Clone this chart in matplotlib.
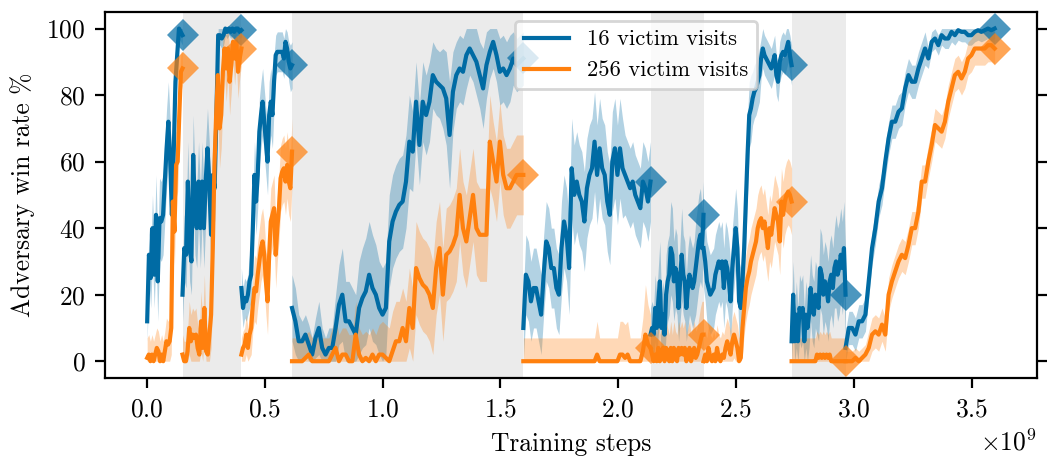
import numpy as np
import matplotlib
matplotlib.use("Agg")
import matplotlib.pyplot as plt

plt.rcParams["font.family"] = "cmr10"
plt.rcParams["mathtext.fontset"] = "cm"
plt.rcParams["axes.formatter.use_mathtext"] = True
plt.rcParams["font.size"] = 9.2

# curriculum segment boundaries, in units of 1e9 training steps
edges = [0.0, 0.15, 0.40, 0.615, 1.597, 2.137, 2.362, 2.736, 2.965, 3.598]
shaded = [1, 3, 5, 7]

# win rate (%) and half-width of the band, per segment
w16_1 = [12, 32, 25, 40, 26, 44, 24, 43, 42, 44, 54, 64, 72, 61, 44, 62, 84, 92, 100, 99, 98]
e16_1 = [6, 8, 9, 10, 10, 12, 12, 12, 12, 12, 12, 12, 12, 12, 12, 12, 9, 6, 3, 3, 3]
w256_1 = [1, 2, 0, 2, 0, 2, 4, 3, 0, 2, 0, 3, 6, 5, 6, 10, 48, 39, 59, 60, 74, 87, 88]
e256_1 = [6, 6, 6, 6, 6, 6, 6, 6, 6, 6, 6, 6, 7, 7, 7, 8, 10, 10, 10, 9, 8, 6, 5]

w16_2 = [20, 34, 32, 54, 34, 30, 62, 44, 40, 54, 40, 54, 40, 54, 64, 54, 38, 56, 52, 74,
         98, 98, 97, 98, 100, 99, 100, 99, 100, 99, 100, 100, 99, 99.5]
e16_2 = [8, 10, 10, 12, 10, 10, 12, 12, 12, 12, 12, 12, 12, 12, 12, 12, 12, 10, 10, 8,
         3, 3, 3, 3, 2, 2, 2, 2, 2, 2, 2, 2, 2, 2]
w256_2 = [2, 0, 0, 3, 10, 6, 8, 7, 8, 4, 2, 12, 4, 16, 3, 2, 8, 14, 34, 59,
          74, 86, 70, 74, 87, 94, 88, 94, 84, 89, 96, 91, 96, 87, 91, 94]
e256_2 = [6, 6, 6, 6, 8, 8, 8, 8, 8, 7, 7, 9, 8, 10, 8, 7, 8, 10, 12, 12,
          12, 12, 12, 10, 10, 8, 10, 8, 10, 8, 6, 8, 6, 8, 6, 5]

w16_3 = [22, 16, 19, 18, 20, 24, 26, 40, 56, 48, 56, 69, 74, 78, 72, 66, 60, 74, 78, 74,
         84, 92, 93, 93, 93, 93, 91, 96, 94, 90, 88, 89]
e16_3 = [6, 6, 6, 6, 6, 8, 8, 10, 10, 10, 10, 10, 10, 10, 10, 10, 10, 10, 10, 10,
         8, 6, 6, 6, 6, 6, 6, 5, 5, 6, 7, 7]
w256_3 = [2, 4, 5, 8, 4, 8, 10, 17, 22, 21, 26, 30, 34, 36, 32, 24, 18, 32, 42, 44,
          46, 32, 40, 46, 55, 57, 58, 54, 59, 54, 52, 63]
e256_3 = [5, 5, 5, 6, 6, 7, 8, 8, 10, 10, 10, 10, 10, 10, 10, 10, 10, 10, 10, 10,
          10, 10, 10, 10, 10, 10, 10, 10, 10, 10, 10, 10]

w16_4 = [16, 12, 6, 6, 8, 5, 2, 7, 10, 4, 2, 4, 4, 10, 17, 20, 12, 12, 10, 8,
         16, 19, 21, 26, 22, 20, 16, 14, 16, 36, 42, 45, 47,
         48, 54, 66, 63, 78, 65, 78, 74, 78, 86, 84, 83, 82, 79, 68, 81, 86, 88, 87, 92,
         94, 92, 90, 86, 82, 89, 93, 96, 92, 87, 88, 86, 88, 91, 89, 90, 91]
e16_4 = [10, 10, 8, 6, 6, 6, 5, 6, 8, 6, 5, 6, 6, 10, 12, 14, 12, 12, 12, 12,
         14, 15, 16, 16, 16, 15, 14, 14, 14, 14, 14, 14, 14,
         14, 14, 14, 12, 12, 12, 12, 12, 12, 10, 10, 10, 12, 14, 16, 12, 10, 10, 10, 10,
         8, 8, 10, 10, 12, 10, 8, 8, 8, 10, 10, 10, 10, 8, 8, 8, 8]
w256_4 = [0, 0, 0, 0, 1, 2, 0, 0, 0, 0, 0, 0, 2, 4, 0, 2, 2, 0, 0, 8,
          2, 0, 1, 0, 2, 0, 2, 2, 1, 0, 3, 6, 6,
          10, 6, 16, 10, 28, 25, 23, 22, 20, 16, 28, 34, 20, 32, 33, 35, 38, 50, 40, 36,
          43, 50, 40, 38, 38, 38, 66, 60, 54, 66, 56, 52, 52, 54, 56, 56, 56]
e256_4 = [7, 7, 7, 7, 7, 7, 7, 7, 7, 7, 7, 7, 8, 9, 8, 8, 8, 8, 8, 10,
          8, 8, 8, 8, 8, 8, 9, 10, 10, 10, 12, 12, 12,
          12, 12, 12, 12, 14, 14, 14, 14, 14, 14, 14, 14, 14, 14, 14, 14, 14, 14, 14, 14,
          14, 14, 14, 14, 14, 14, 14, 12, 12, 12, 12, 12, 12, 12, 12, 12, 12]

w16_5 = [10, 26, 24, 18, 22, 22, 18, 14, 26, 36, 34, 28, 28, 22, 20, 34, 42, 38, 28, 58,
         50, 54, 50, 48, 42, 52, 56, 58, 66, 56, 64, 58, 56, 48, 44, 60, 64, 56, 64, 58,
         56, 54, 52, 54, 50, 48, 46, 54, 52, 48, 54]
e16_5 = [10, 12, 12, 12, 12, 12, 12, 12, 12, 12, 12, 12, 12, 12, 12, 14, 14, 14, 14, 15,
         15, 15, 15, 15, 15, 15, 15, 15, 15, 15, 15, 15, 15, 15, 15, 15, 15, 15, 15, 15,
         12, 12, 12, 12, 12, 12, 12, 12, 12, 12, 12]
w256_5 = [0, 0, 0, 0, 0, 0, 0, 0, 0, 0, 0, 0, 0, 0, 0, 0, 0, 0, 0, 0,
          0, 0, 0, 0, 0, 0, 0, 0, 0, 2, 0, 0, 0, 0, 0, 0, 0, 0, 2, 2,
          1, 2, 0, 0, 0, 0, 0, 3, 8, 5, 4]
e256_5 = [7, 7, 7, 7, 7, 7, 7, 7, 7, 7, 7, 7, 7, 7, 7, 7, 7, 7, 7, 7,
          7, 7, 7, 7, 7, 7, 7, 7, 7, 10, 7, 7, 7, 7, 7, 7, 7, 7, 10, 10,
          10, 10, 7, 7, 7, 7, 7, 10, 15, 12, 10]

w16_6 = [8, 10, 8, 16, 10, 18, 24, 10, 14, 8, 20, 24, 26, 34, 32, 24, 28, 26, 16, 24,
         32, 26, 24, 16, 22, 26, 24, 22, 24, 28, 32, 36, 38, 34, 44]
e16_6 = [8, 8, 8, 10, 10, 10, 12, 10, 10, 10, 12, 12, 12, 14, 14, 12, 12, 12, 10, 12,
         14, 12, 12, 10, 12, 12, 12, 12, 12, 14, 14, 14, 14, 12, 10]
w256_6 = [4, 2, 0, 2, 0, 4, 0, 2, 4, 0, 4, 2, 0, 4, 0, 4, 1, 0, 4, 2,
          4, 2, 4, 0, 2, 4, 0, 2, 4, 1, 2, 4, 6, 8, 8]
e256_6 = [7, 7, 7, 8, 8, 8, 8, 8, 8, 8, 8, 8, 8, 8, 8, 8, 8, 8, 8, 8,
          8, 8, 8, 8, 8, 8, 8, 8, 8, 8, 8, 9, 10, 10, 10]

w16_7 = [34, 30, 24, 22, 20, 21, 22, 26, 28, 30, 28, 30, 22, 30, 28, 24, 18, 28, 34, 40,
         34, 18, 16, 24, 34, 48, 62, 74, 76, 79, 81, 82, 84, 86, 91, 94, 92, 91, 90, 89,
         88, 90, 92, 86, 84, 90, 92, 93, 92, 94, 96, 92, 89]
e16_7 = [12, 12, 12, 12, 12, 12, 12, 12, 12, 12, 12, 12, 12, 12, 12, 12, 12, 12, 12, 12,
         12, 12, 12, 12, 12, 12, 12, 10, 10, 8, 8, 8, 8, 8, 6, 6, 6, 6, 6, 6,
         6, 6, 6, 6, 6, 6, 6, 6, 6, 6, 6, 6, 6]
w256_7 = [0, 2, 0, 4, 1, 0, 2, 0, 4, 1, 0, 2, 1, 4, 6, 4, 2, 6, 8, 6,
          4, 0, 1, 10, 16, 22, 25, 27, 30, 32, 34, 36, 40, 42, 43, 40, 42, 38, 34, 40,
          38, 42, 46, 44, 42, 36, 48, 44, 48, 50, 51, 50, 48]
e256_7 = [7, 7, 7, 7, 7, 7, 7, 7, 7, 7, 7, 7, 7, 7, 7, 7, 7, 7, 7, 7,
          7, 7, 8, 8, 8, 10, 10, 10, 10, 10, 10, 10, 10, 10, 10, 10, 10, 10, 10, 10,
          10, 10, 10, 10, 10, 10, 10, 10, 10, 10, 10, 10, 10]

w16_8 = [6, 20, 6, 14, 6, 16, 14, 16, 6, 14, 10, 14, 22, 16, 14, 20, 18, 16, 28, 26,
         20, 24, 22, 18, 24, 26, 22, 28, 30, 26, 28, 32, 28, 34, 20]
e16_8 = [10, 10, 10, 10, 10, 10, 10, 10, 10, 10, 10, 10, 10, 10, 10, 10, 10, 10, 12, 12,
         12, 12, 12, 12, 12, 12, 12, 12, 14, 14, 14, 14, 14, 14, 14]
w256_8 = [0, 0, 0, 0, 0, 0, 0, 0, 0, 0, 0, 0, 0, 0, 0, 0, 2, 1, 2, 1,
          2, 1, 2, 1, 2, 0, 0, 0, 0, 0, 0, 0, 0, 0, 0]
e256_8 = [7, 7, 7, 7, 7, 7, 7, 7, 7, 7, 7, 7, 7, 7, 7, 7, 7, 7, 7, 7,
          7, 7, 7, 7, 7, 7, 7, 7, 7, 7, 7, 7, 7, 7, 7]

w16_9 = [4, 10, 10, 8, 12, 12, 14, 24, 34, 40, 48, 52, 60, 67, 72, 72, 75, 76, 82, 86,
         84, 84, 88, 91, 94, 91, 96, 97, 95, 98, 97, 97, 99, 98, 99.5, 99, 99, 98, 98, 99,
         99.5, 99, 99.5, 100, 99.5, 100]
e16_9 = [5, 5, 5, 5, 5, 5, 5, 5, 5, 5, 5, 5, 5, 5, 5, 5, 5, 5, 5, 5,
         5, 5, 5, 5, 5, 3, 3, 3, 3, 3, 3, 3, 3, 3, 3, 3, 3, 3, 3, 3,
         3, 3, 3, 3, 3, 3]
w256_9 = [0, 0, 0, 1, 0, 1, 2, 4, 8, 9, 8, 11, 8, 20, 24, 27, 30, 32, 31, 35,
          40, 40, 45, 54, 54, 60, 65, 71, 70, 69, 72, 78, 82, 86, 87, 85, 87, 91, 92, 94,
          94, 94, 94, 95, 95, 94]
e256_9 = [3, 3, 3, 3, 3, 3, 3, 5, 5, 5, 5, 5, 5, 5, 5, 5, 5, 5, 5, 5,
          5, 5, 5, 5, 5, 5, 5, 5, 5, 5, 5, 5, 5, 5, 5, 5, 5, 5, 5, 5,
          5, 5, 5, 5, 5, 5]

win16 = [w16_1, w16_2, w16_3, w16_4, w16_5, w16_6, w16_7, w16_8, w16_9]
err16 = [e16_1, e16_2, e16_3, e16_4, e16_5, e16_6, e16_7, e16_8, e16_9]
win256 = [w256_1, w256_2, w256_3, w256_4, w256_5, w256_6, w256_7, w256_8, w256_9]
err256 = [e256_1, e256_2, e256_3, e256_4, e256_5, e256_6, e256_7, e256_8, e256_9]

blue = "#006BA4"
orange = "#FF800E"

fig, ax = plt.subplots(figsize=(5.24, 2.29), dpi=200)
fig.subplots_adjust(left=0.100, right=0.9895, bottom=0.175, top=0.974)

for i in shaded:
    ax.axvspan(edges[i] * 1e9, edges[i + 1] * 1e9, color="#ebebeb", lw=0, zorder=0)

series = [(win16, err16, blue, "16 victim visits"),
          (win256, err256, orange, "256 victim visits")]

for k in range(len(edges) - 1):
    for wins, errs, col, label in series:
        y = np.array(wins[k], dtype=float)
        e = np.array(errs[k], dtype=float)
        x = np.linspace(edges[k], edges[k + 1], len(y)) * 1e9
        ax.fill_between(x, np.clip(y - e, 0, 100), np.clip(y + e, 0, 100),
                        color=col, alpha=0.3, lw=0, zorder=2)
        ax.plot(x, y, color=col, lw=1.5, zorder=3, label=label if k == 0 else None)
        ax.plot(x[-1], y[-1], "D", color=col, ms=8, mew=0, alpha=0.7, zorder=4)

ax.set_xticks(np.arange(0, 3.51, 0.5) * 1e9)
ax.set_yticks([0, 20, 40, 60, 80, 100])
ax.tick_params(axis="y", right=True)
ax.set_xlabel("Training steps")
ax.set_ylabel("Adversary win rate %")
ax.legend(loc="upper left", bbox_to_anchor=(0.44, 0.976), borderaxespad=0, fontsize=8.1)

fig.savefig("out.png", dpi=200)
